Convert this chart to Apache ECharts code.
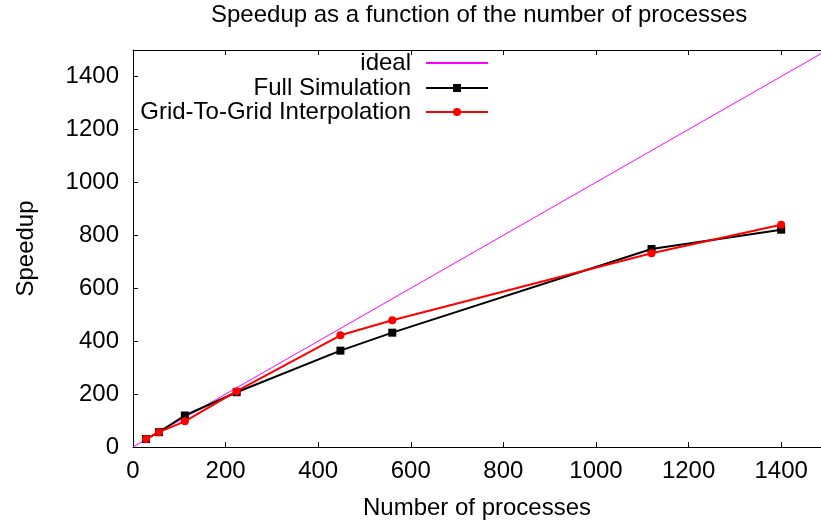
<!DOCTYPE html>
<html>
<head>
<meta charset="utf-8">
<script src="https://cdn.jsdelivr.net/npm/echarts@6/dist/echarts.min.js"></script>
<style>
html,body{margin:0;padding:0;background:#fff;}
#chart{width:821px;height:525px;}
</style>
</head>
<body>
<div id="chart"></div>
<script>
// ---- data ----
const titleText = 'Speedup as a function of the number of processes';
const xName = 'Number of processes';
const yName = 'Speedup';
const seriesNames = ['ideal', 'Full Simulation', 'Grid-To-Grid Interpolation'];
const idealX = [0, 1500];
const idealY = [0, 1500];
const processes = [28, 56, 112, 224, 448, 560, 1120, 1400];
const fullSpeedup = [30, 56, 119, 207, 364, 432, 748, 821];
const gridSpeedup = [30, 56, 97, 211, 422, 479, 732, 840];
const xTicks = [0, 200, 400, 600, 800, 1000, 1200, 1400];
const yTicks = [0, 200, 400, 600, 800, 1000, 1200, 1400];

const zip = (a, b) => a.map((v, i) => [v, b[i]]);
const FONT = 'Liberation Sans';
const chart = echarts.init(document.getElementById('chart'), null, {renderer: 'canvas'});

function axisCommon(extra) {
  return Object.assign({
    type: 'value',
    axisLine: {show: true, onZero: false, lineStyle: {color: '#000', width: 1}},
    axisTick: {show: true, inside: true, length: 5, lineStyle: {color: '#000', width: 1}},
    splitLine: {show: false},
    axisLabel: {color: '#000', fontSize: 24, fontFamily: FONT, showMaxLabel: false,
      formatter: v => String(v)}
  }, extra);
}

const legendCommon = (name, top) => ({
  data: [name === 'ideal' ? {name: name, itemStyle: {opacity: 0}} : name],
  right: 332, top: top, padding: 0,
  align: 'right', orient: 'vertical',
  itemWidth: 62, itemHeight: 10,
  textStyle: {fontSize: 24, color: '#000', fontFamily: FONT, padding: [0, 10, 0, 0]},
  selectedMode: false
});

chart.setOption({
  animation: false,
  backgroundColor: '#fff',
  textStyle: {fontFamily: FONT},
  title: {
    text: titleText, left: 211, top: 3, padding: 0,
    textStyle: {fontSize: 24, fontWeight: 'normal', color: '#000', fontFamily: FONT}
  },
  legend: [
    legendCommon(seriesNames[0], 51),
    legendCommon(seriesNames[1], 76),
    legendCommon(seriesNames[2], 100)
  ],
  grid: {left: 133, right: 0, top: 50, bottom: 76, containLabel: false},
  xAxis: [
    axisCommon({position: 'bottom', min: 0, max: 1486, interval: 200,
      name: xName, nameLocation: 'middle', nameGap: 49,
      nameTextStyle: {fontSize: 24, color: '#000', fontFamily: FONT},
      axisLabel: {color: '#000', fontSize: 24, fontFamily: FONT, margin: 12, showMaxLabel: false,
        formatter: v => (xTicks.indexOf(v) >= 0 ? String(v) : '')}}),
    axisCommon({position: 'top', min: 0, max: 1486, interval: 200,
      axisLabel: {show: false}})
  ],
  yAxis: [
    axisCommon({position: 'left', min: 0, max: 1500, interval: 200,
      name: yName, nameLocation: 'middle', nameGap: 95, nameRotate: 90,
      nameTextStyle: {fontSize: 24, color: '#000', fontFamily: FONT},
      axisLabel: {color: '#000', fontSize: 24, fontFamily: FONT, margin: 14, showMaxLabel: false,
        formatter: v => (yTicks.indexOf(v) >= 0 ? String(v) : '')}})
  ],
  series: [
    {name: seriesNames[0], type: 'line', xAxisIndex: 0, data: zip(idealX, idealY),
      symbol: 'none', clip: true, color: '#ff00ff',
      lineStyle: {color: '#ff00ff', width: 1}, z: 2},
    {name: seriesNames[1], type: 'line', xAxisIndex: 0, data: zip(processes, fullSpeedup),
      symbol: 'rect', symbolSize: 8, clip: true, color: '#000',
      itemStyle: {color: '#000'}, lineStyle: {color: '#000', width: 2}, z: 3},
    {name: seriesNames[2], type: 'line', xAxisIndex: 0, data: zip(processes, gridSpeedup),
      symbol: 'circle', symbolSize: 8, clip: true, color: '#ff0000',
      itemStyle: {color: '#ff0000'}, lineStyle: {color: '#ff0000', width: 2}, z: 4}
  ]
});
</script>
</body>
</html>
